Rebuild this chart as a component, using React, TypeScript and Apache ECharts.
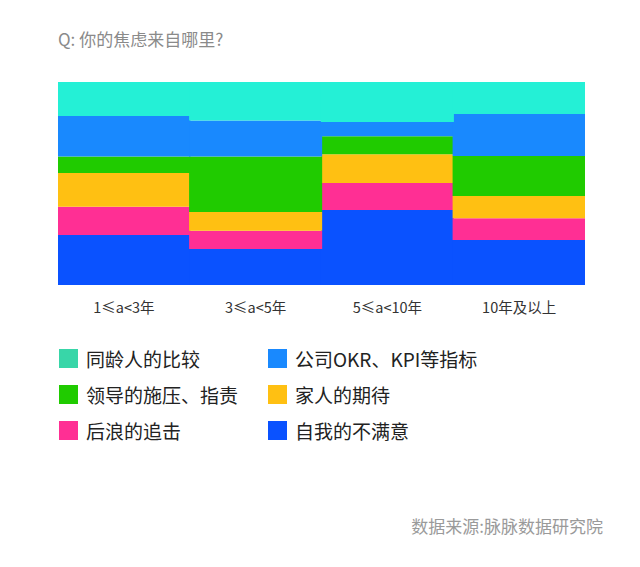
import { useEffect, useRef } from "react";
import * as echarts from "echarts";

const categories = ["1≤a<3年", "3≤a<5年", "5≤a<10年", "10年及以上"];

// stack order, bottom to top
const seriesNames = [
  "自我的不满意",
  "后浪的追击",
  "家人的期待",
  "领导的施压、指责",
  "公司OKR、KPI等指标",
  "同龄人的比较",
];

const selfDissatisfied = [24.6, 17.7, 36.9, 22.2];
const youngerChase = [13.9, 9.0, 13.4, 10.7];
const familyExpect = [16.7, 9.2, 14.1, 11.0];
const bossPressure = [8.1, 27.4, 8.9, 19.6];
const okrKpi = [20.0, 17.7, 7.0, 20.7];
const peerCompare = [16.7, 19.0, 19.7, 15.8];

const seriesValues = [
  selfDissatisfied,
  youngerChase,
  familyExpect,
  bossPressure,
  okrKpi,
  peerCompare,
];

const barColors = ["#0a52ff", "#ff2f94", "#ffc012", "#20cb00", "#1989fe", "#24f0d6"];
const legendColors = ["#0a52ff", "#ff2f94", "#ffc012", "#20cb00", "#1989fe", "#38d6a8"];

const FONT = "'Noto Sans CJK SC', 'Noto Sans', sans-serif";

export default function App() {
  const ref = useRef<HTMLDivElement>(null);

  useEffect(() => {
    if (!ref.current) return;
    const chart = echarts.init(ref.current, null, { renderer: "svg" });

    const legendItem = (i: number) => ({
      name: seriesNames[i],
      itemStyle: { color: legendColors[i], borderWidth: 0 },
    });

    const legendBase = {
      orient: "vertical" as const,
      top: 349,
      padding: 0,
      itemWidth: 19,
      itemHeight: 19,
      itemGap: 17,
      icon: "rect",
      selectedMode: false,
      textStyle: {
        color: "#222",
        fontSize: 19,
        lineHeight: 19,
        fontFamily: FONT,
        padding: [0, 0, 0, 3],
      },
    };

    chart.setOption({
      animation: false,
      backgroundColor: "#fff",
      textStyle: { fontFamily: FONT },
      title: {
        text: "Q: 你的焦虑来自哪里?",
        left: 58,
        top: 30,
        padding: 0,
        textStyle: {
          color: "#8a8a8a",
          fontSize: 17,
          fontWeight: "normal",
          fontFamily: FONT,
        },
      },
      grid: { left: 58, right: 55, top: 82, bottom: 282 },
      legend: [
        {
          ...legendBase,
          left: 59,
          data: [legendItem(5), legendItem(3), legendItem(1)],
        },
        {
          ...legendBase,
          left: 268,
          data: [legendItem(4), legendItem(2), legendItem(0)],
        },
      ],
      xAxis: {
        type: "category",
        data: categories,
        axisLine: { show: false },
        axisTick: { show: false },
        axisLabel: {
          color: "#333",
          fontSize: 14.5,
          margin: 14,
          fontFamily: FONT,
        },
      },
      yAxis: {
        type: "value",
        min: 0,
        max: 100,
        show: false,
      },
      series: seriesNames.map((name, i) => ({
        name,
        type: "bar",
        stack: "total",
        barWidth: "101%",
        barCategoryGap: 0,
        data: seriesValues[i],
        itemStyle: {
          color: barColors[i],
          borderWidth: 0,
        },
      })),
      graphic: [
        {
          type: "text",
          right: 37,
          top: 517,
          style: {
            text: "数据来源:脉脉数据研究院",
            fill: "#9a9a9a",
            fontSize: 17,
            fontFamily: FONT,
          },
        },
      ],
    });

    return () => chart.dispose();
  }, []);

  return (
    <div
      ref={ref}
      style={{ position: "absolute", left: 0, top: 0, width: 640, height: 567 }}
    />
  );
}
